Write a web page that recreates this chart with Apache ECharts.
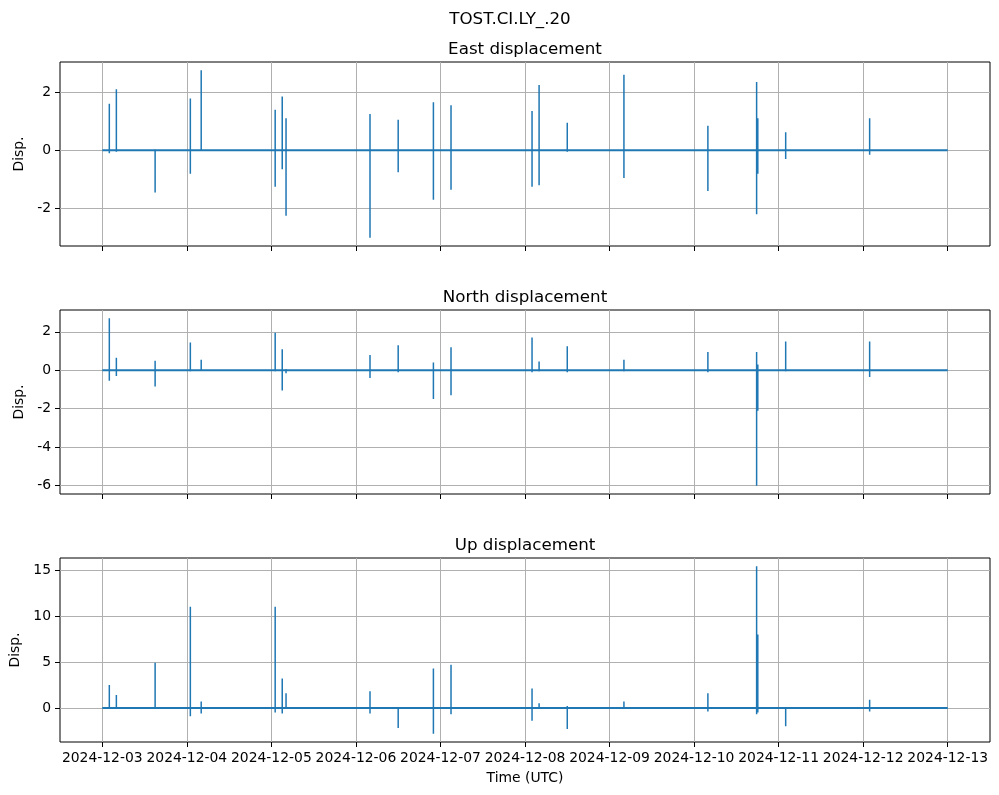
<!DOCTYPE html>
<html>
<head>
<meta charset="utf-8">
<script src="https://cdn.jsdelivr.net/npm/echarts@6/dist/echarts.min.js"></script>
<style>
html,body{margin:0;padding:0;background:#fff;}
#chart{width:999px;height:795px;}
</style>
</head>
<body>
<div id="chart"></div>
<script>
// ---- data ----
const stationTitle = "TOST.CI.LY_.20";
const panelTitles = ["East displacement", "North displacement", "Up displacement"];
const dayTicks = ["2024-12-03","2024-12-04","2024-12-05","2024-12-06","2024-12-07","2024-12-08","2024-12-09","2024-12-10","2024-12-11","2024-12-12","2024-12-13"];
const startTime = "2024-12-03T00:00Z";
const endTime = "2024-12-13T00:00Z";
const baselineValue = 0;
const eventTimes = ["2024-12-03T02:00Z","2024-12-03T04:00Z","2024-12-03T15:00Z","2024-12-04T01:00Z","2024-12-04T04:05Z","2024-12-05T01:05Z","2024-12-05T03:05Z","2024-12-05T04:10Z","2024-12-06T04:00Z","2024-12-06T12:00Z","2024-12-06T22:00Z","2024-12-07T03:00Z","2024-12-08T02:00Z","2024-12-08T04:00Z","2024-12-08T12:00Z","2024-12-09T04:05Z","2024-12-10T03:55Z","2024-12-10T17:45Z","2024-12-10T18:05Z","2024-12-11T02:00Z","2024-12-12T01:50Z"];
const eastHigh  = [1.6, 2.1, 0.02, 1.78, 2.75, 1.4, 1.85, 1.1, 1.25, 1.05, 1.65, 1.55, 1.35, 2.25, 0.95, 2.6, 0.85, 2.35, 1.1, 0.62, 1.1];
const eastLow   = [-0.1, -0.05, -1.45, -0.8, -0.02, -1.25, -0.65, -2.25, -3.0, -0.75, -1.7, -1.35, -1.25, -1.2, -0.05, -0.95, -1.4, -2.2, -0.8, -0.3, -0.15];
const northHigh = [2.7, 0.65, 0.5, 1.45, 0.55, 1.95, 1.1, 0.05, 0.8, 1.3, 0.4, 1.2, 1.7, 0.45, 1.25, 0.55, 0.95, 0.95, 0.3, 1.5, 1.5];
const northLow  = [-0.55, -0.3, -0.85, -0.05, -0.02, -0.05, -1.05, -0.15, -0.4, -0.1, -1.5, -1.3, -0.1, -0.05, -0.1, -0.05, -0.1, -6.0, -2.1, -0.05, -0.35];
const upHigh    = [2.5, 1.4, 4.9, 11.0, 0.7, 11.0, 3.2, 1.6, 1.8, 0.1, 4.3, 4.7, 2.1, 0.5, 0.2, 0.7, 1.6, 15.4, 8.0, 0.1, 0.9];
const upLow     = [-0.1, -0.05, -0.1, -0.9, -0.6, -0.5, -0.6, -0.1, -0.6, -2.2, -2.8, -0.7, -1.4, -0.1, -2.3, -0.1, -0.4, -0.7, -0.5, -2.0, -0.4];
const eastTicks = [-2, 0, 2];
const northTicks = [-6, -4, -2, 0, 2];
const upTicks = [0, 5, 10, 15];

// ---- build ----
const t0 = Date.parse(startTime), t1 = Date.parse(endTime);
const span = t1 - t0;
const xMin = t0 - span * 0.05, xMax = t1 + span * 0.05;
const xTickVals = dayTicks.map(d => Date.parse(d + "T00:00Z"));

function buildSpikes(hi, lo) {
  const out = [];
  eventTimes.forEach((s, i) => {
    const t = Date.parse(s);
    out.push([t, hi[i]], [t, lo[i]], [t, null]);
  });
  return out;
}
function yRange(hi, lo) {
  const mx = Math.max(0, ...hi), mn = Math.min(0, ...lo);
  const m = (mx - mn) * 0.05;
  return [mn - m, mx + m];
}

const FONT = "DejaVu Sans";
const BLUE = "#1f77b4";
const panels = [
  { hi: eastHigh, lo: eastLow, ticks: eastTicks, top: 62 },
  { hi: northHigh, lo: northLow, ticks: northTicks, top: 310 },
  { hi: upHigh, lo: upLow, ticks: upTicks, top: 558 }
];

const grids = [], xAxes = [], yAxes = [], series = [], titles = [];
titles.push({ text: stationTitle, left: 505, textAlign: "center", top: 6, textStyle: { fontFamily: FONT, fontSize: 16.7, fontWeight: "normal", color: "#000" } });
panels.forEach((p, i) => {
  grids.push({ left: 60, right: 9, top: p.top, height: 184, show: true, borderColor: "#000", borderWidth: 1, backgroundColor: "transparent" });
  titles.push({ text: panelTitles[i], left: 520, textAlign: "center", top: p.top - 26, textStyle: { fontFamily: FONT, fontSize: 16.7, fontWeight: "normal", color: "#000" } });
  const last = i === panels.length - 1;
  xAxes.push({
    type: "value", gridIndex: i, min: xMin, max: xMax,
    axisLine: { show: false, onZero: false },
    axisTick: { show: true, length: 5, customValues: xTickVals, lineStyle: { color: "#000", width: 1 } },
    axisLabel: { show: last, customValues: xTickVals, margin: 9, fontFamily: FONT, fontSize: 13.9, color: "#000",
      formatter: v => new Date(v).toISOString().slice(0, 10) },
    splitLine: { show: true, lineStyle: { color: "#b0b0b0", width: 1 } },
    name: last ? "Time (UTC)" : "", nameLocation: "middle", nameGap: 29,
    nameTextStyle: { fontFamily: FONT, fontSize: 13.9, color: "#000" }
  });
  const [ymin, ymax] = yRange(p.hi, p.lo);
  yAxes.push({
    type: "value", gridIndex: i, min: ymin, max: ymax,
    axisLine: { show: false, onZero: false },
    axisTick: { show: true, length: 5, customValues: p.ticks, lineStyle: { color: "#000", width: 1 } },
    axisLabel: { customValues: p.ticks, margin: 9, fontFamily: FONT, fontSize: 13.9, color: "#000" },
    splitLine: { show: true, lineStyle: { color: "#b0b0b0", width: 1 } },
    name: "Disp.", nameLocation: "middle", nameGap: 34,
    nameTextStyle: { fontFamily: FONT, fontSize: 13.9, color: "#000" }
  });
  series.push({
    type: "line", xAxisIndex: i, yAxisIndex: i, data: [[t0, baselineValue], [t1, baselineValue]],
    showSymbol: false, symbol: "none", lineStyle: { color: BLUE, width: 2 }, animation: false, z: 3
  });
  series.push({
    type: "line", xAxisIndex: i, yAxisIndex: i, data: buildSpikes(p.hi, p.lo), connectNulls: false,
    showSymbol: false, symbol: "none", lineStyle: { color: BLUE, width: 1.5 }, animation: false, z: 3
  });
});

const chart = echarts.init(document.getElementById("chart"), null, { renderer: "canvas" });
chart.setOption({ animation: false, title: titles, grid: grids, xAxis: xAxes, yAxis: yAxes, series: series });
</script>
</body>
</html>
